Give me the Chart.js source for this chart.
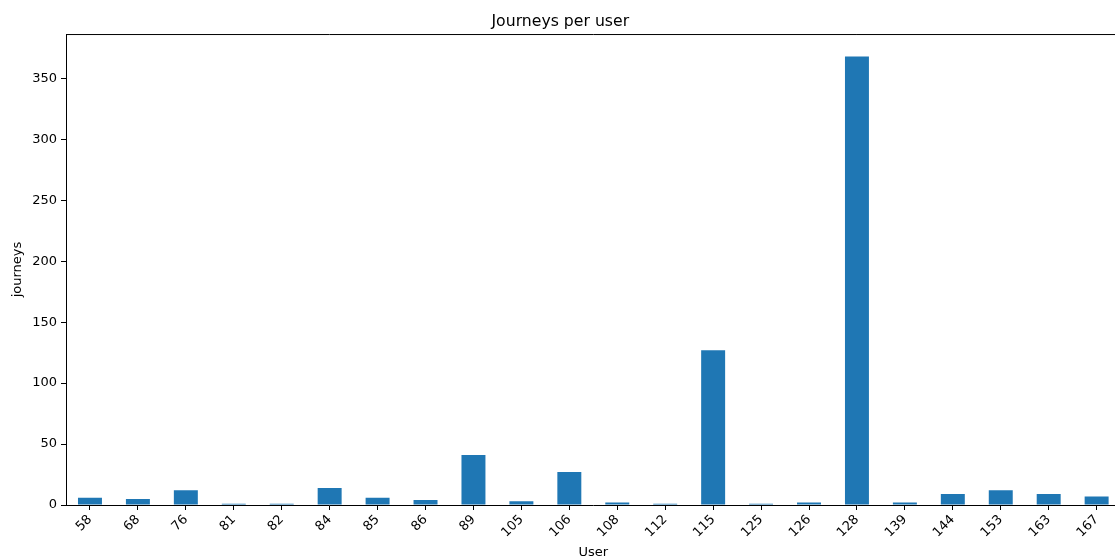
<!DOCTYPE html>
<html>
<head>
<meta charset="utf-8">
<title>Journeys per user</title>
<script src="https://cdn.jsdelivr.net/npm/chart.js@4/dist/chart.umd.min.js"></script>
<style>
  html, body { margin: 0; padding: 0; background: #ffffff; overflow: hidden; }
  #wrap { width: 1115px; height: 558px; overflow: hidden; }
</style>
</head>
<body>
<div id="wrap"><canvas id="chart" width="1130" height="565"></canvas></div>
<script>
// Journeys recorded for each user id
const users = ['58', '68', '76', '81', '82', '84', '85', '86', '89', '105', '106',
               '108', '112', '115', '125', '126', '128', '139', '144', '153', '163', '167'];
const journeys = [6, 5, 12, 1, 1, 14, 6, 4, 41, 3, 27, 2, 1, 127, 1, 2, 368, 2, 9, 12, 9, 7];
const yTicks = [0, 50, 100, 150, 200, 250, 300, 350];

const FONT = 'DejaVu Sans';
const yMax = Math.max(...journeys) * 1.05;

// Closes the frame along the top and right of the plot area
const frameTop = {
  id: 'frameTop',
  afterDraw(chart) {
    const { ctx, chartArea: a } = chart;
    ctx.save();
    ctx.strokeStyle = '#000000';
    ctx.lineWidth = 1;
    ctx.beginPath();
    ctx.moveTo(a.left, a.top + 0.5);
    ctx.lineTo(a.right, a.top + 0.5);
    ctx.moveTo(a.right - 0.5, a.top);
    ctx.lineTo(a.right - 0.5, a.bottom);
    ctx.stroke();
    ctx.restore();
  }
};

new Chart(document.getElementById('chart'), {
  type: 'bar',
  data: {
    labels: users,
    datasets: [{
      label: 'journeys',
      data: journeys,
      backgroundColor: '#1f77b4',
      borderWidth: 0,
      categoryPercentage: 1.0,
      barPercentage: 0.5
    }]
  },
  options: {
    responsive: false,
    animation: false,
    devicePixelRatio: 1,
    layout: { padding: { left: 0, right: 9.4, top: 0, bottom: 0 } },
    plugins: {
      legend: { display: false },
      tooltip: { enabled: false },
      title: {
        display: true,
        text: 'Journeys per user',
        color: '#000000',
        font: { family: FONT, size: 15.7, weight: 'normal', lineHeight: 1.2 },
        padding: { top: 12.4, bottom: 2.8 }
      }
    },
    scales: {
      x: {
        type: 'category',
        offset: true,
        grid: { offset: false, drawOnChartArea: false, drawTicks: true, tickLength: 5, color: '#000000' },
        border: { display: true, color: '#000000', width: 1 },
        ticks: {
          color: '#000000',
          font: { family: FONT, size: 13 },
          minRotation: 45,
          maxRotation: 45,
          autoSkip: false,
          padding: 2
        },
        title: {
          display: true,
          text: 'User',
          color: '#000000',
          font: { family: FONT, size: 13 },
          padding: { top: 0, bottom: 4.2 }
        },
        afterFit(scale) { scale.height = 60; }
      },
      y: {
        min: 0,
        max: yMax,
        grid: { drawOnChartArea: false, drawTicks: true, tickLength: 5, color: '#000000' },
        border: { display: true, color: '#000000', width: 1 },
        afterBuildTicks(scale) { scale.ticks = yTicks.map(v => ({ value: v })); },
        ticks: {
          color: '#000000',
          font: { family: FONT, size: 13 },
          padding: 4,
          includeBounds: false
        },
        title: {
          display: true,
          text: 'journeys',
          color: '#000000',
          font: { family: FONT, size: 13 },
          padding: { top: 10.2, bottom: 0 }
        },
        afterFit(scale) { scale.width = 66; }
      }
    }
  },
  plugins: [frameTop]
});
</script>
</body>
</html>
